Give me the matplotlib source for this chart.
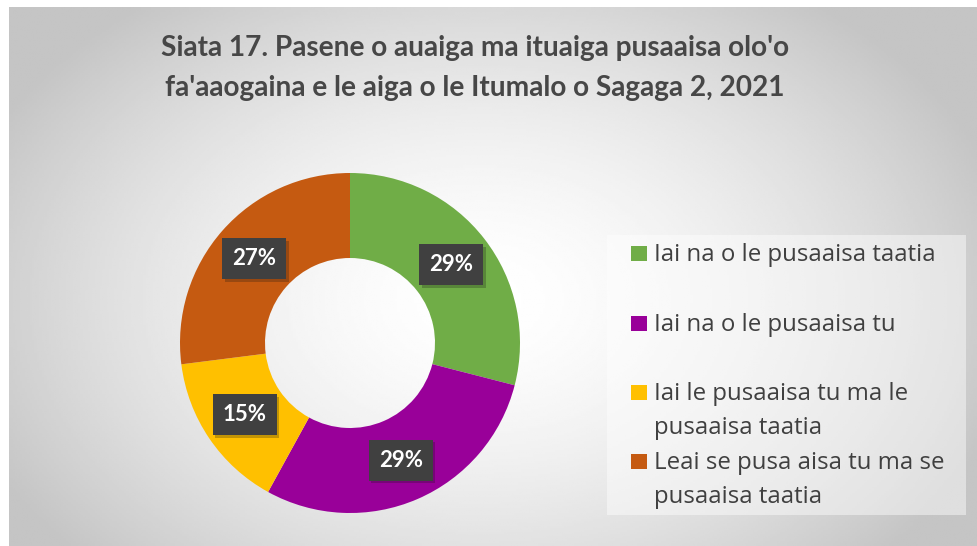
import numpy as np
import matplotlib.pyplot as plt
from matplotlib.patches import Rectangle
import matplotlib.patheffects as pe

W, H = 977, 546

# data
categories = ["Iai na o le pusaaisa taatia",
              "Iai na o le pusaaisa tu",
              "Iai le pusaaisa tu ma le\npusaaisa taatia",
              "Leai se pusa aisa tu ma se\npusaaisa taatia"]
shares = [29, 29, 15, 27]
colors = ["#70AD47", "#990099", "#FFC000", "#C55A11"]
title = "Siata 17. Pasene o auaiga ma ituaiga pusaaisa olo'o\nfa'aaogaina e le aiga o le Itumalo o Sagaga 2, 2021"

fig = plt.figure(figsize=(W / 100, H / 100), dpi=100)
fig.patch.set_facecolor("white")

# gradient background of the chart area
bg = fig.add_axes([9 / W, 0, 1 - 9 / W, 1 - 7 / H])
bg.set_axis_off()
xx, yy = np.meshgrid(np.linspace(9, W, 400), np.linspace(7, H, 250))
d = np.sqrt(((xx - 480) / 620) ** 2 + ((yy - 300) / 430) ** 2)
shade = np.clip(1 - 0.28 * d ** 1.6, 0.77, 1)
bg.imshow(shade, cmap="gray", vmin=0, vmax=1, aspect="auto",
          extent=[0, 1, 0, 1], origin="upper")
bg.set_xlim(0, 1)
bg.set_ylim(0, 1)

# donut
cx, cy, r = 350, 343, 170
ax = fig.add_axes([(cx - r) / W, (H - cy - r) / H, 2 * r / W, 2 * r / H])
ax.set_axis_off()
wedges, _ = ax.pie(shares, colors=colors, startangle=90, counterclock=False,
                   radius=1, wedgeprops=dict(width=0.5, linewidth=0))
ax.set_xlim(-1, 1)
ax.set_ylim(-1, 1)

for w, v in zip(wedges, shares):
    ang = np.deg2rad((w.theta1 + w.theta2) / 2)
    t = ax.text(0.75 * np.cos(ang), 0.75 * np.sin(ang), f"{v}%",
                ha="center", va="center", color="white", fontsize=16,
                fontweight="bold", family=["Lato", "DejaVu Sans"],
                bbox=dict(boxstyle="square,pad=0.45", fc="#404040", ec="none"))
    t.get_bbox_patch().set_path_effects(
        [pe.SimplePatchShadow(offset=(2, -2), alpha=0.25), pe.Normal()])

# title
fig.text(475 / W, 1 - 68 / H, title, ha="center", va="center",
         fontsize=20.2, fontweight="bold", color="#474747", linespacing=1.62,
         family=["Lato", "DejaVu Sans"])

# legend box
fig.patches.append(Rectangle((607 / W, 1 - 515 / H), 359 / W, 280 / H,
                             transform=fig.transFigure, fc="white",
                             alpha=0.45, ec="none"))
baselines = [261, 331, 400, 469]
for lab, c, y in zip(categories, colors, baselines):
    fig.patches.append(Rectangle((631 / W, 1 - y / H), 16 / W, 15 / H,
                                 transform=fig.transFigure, fc=c, ec="none"))
    for i, line in enumerate(lab.split("\n")):
        fig.text(654 / W, 1 - (y + 34 * i) / H, line, ha="left", va="baseline",
                 fontsize=17.3, color="#404040",
                 family=["Open Sans", "DejaVu Sans"])

fig.savefig("out.png", dpi=100)
